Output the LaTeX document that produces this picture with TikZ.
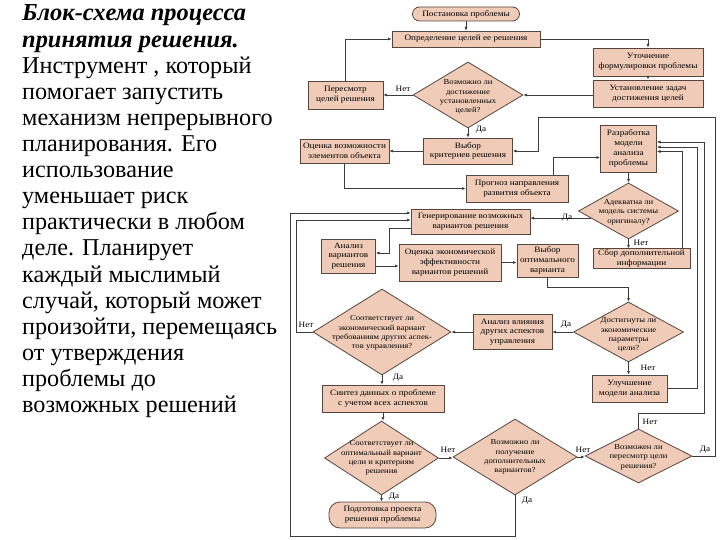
\documentclass[tikz,border=0pt]{standalone}
\usepackage{fontspec}
\setmainfont{Liberation Serif}
\newfontfamily\fcf[FakeStretch=1.12]{Liberation Serif}
\usetikzlibrary{shapes.geometric,arrows.meta,calc}
\definecolor{boxfill}{RGB}{240,204,184}
\definecolor{boxline}{RGB}{85,70,64}
\definecolor{conn}{RGB}{60,60,60}
\tikzset{
  fc/.style={font=\fcf\fontsize{8.2}{9.8}\selectfont, align=center, text=black},
  dl/.style={font=\fcf\fontsize{7.7}{9.4}\selectfont, align=center, text=black},
  box/.style={fc, draw=boxline, fill=boxfill, line width=0.8pt, inner sep=1pt},
  term/.style={box, rounded corners=7pt},
  dia/.style={draw=boxline, fill=boxfill, line width=0.8pt, shape=diamond, inner sep=0pt},
  arr/.style={draw=conn, line width=0.6pt, -{Latex[length=3.6pt,width=3pt]}},
  lbl/.style={font=\fcf\fontsize{8.2}{9}\selectfont, inner sep=0pt},
  lt/.style={font=\fontsize{24.2}{26}\selectfont, inner sep=0pt, anchor=base west},
  ltb/.style={lt, font=\fontsize{24.4}{26}\selectfont\bfseries\itshape}
}
\begin{document}
\begin{tikzpicture}[x=1pt,y=-1pt]
\useasboundingbox (0,0) rectangle (720,540);
\fill[white] (0,0) rectangle (720,540);

% left text
\node[ltb] (t1) at (22,21) {Блок-схема процесса};
\node[ltb] (t2) at (22,47.1) {принятия решения.};
\node[lt] (t3) at (22,73.2) {Инструмент , который};
\node[lt] (t4) at (22,99.3) {помогает запустить};
\node[lt] (t5) at (22,125.4) {механизм непрерывного};
\node[lt] (t6) at (22,151.5) {планирования. Его};
\node[lt] (t7) at (22,177.6) {использование};
\node[lt] (t8) at (22,203.7) {уменьшает риск};
\node[lt] (t9) at (22,229.8) {практически в любом};
\node[lt] (t10) at (22,255.9) {деле. Планирует};
\node[lt] (t11) at (22,282) {каждый мыслимый};
\node[lt] (t12) at (22,308.1) {случай, который может};
\node[lt] (t13) at (22,334.2) {произойти, перемещаясь};
\node[lt] (t14) at (22,360.3) {от утверждения};
\node[lt] (t15) at (22,386.4) {проблемы до};
\node[lt] (t16) at (22,412.5) {возможных решений};

% boxes
\node[term, minimum width=107pt, minimum height=14pt] (post) at (466,14) {Постановка проблемы};
\node[box, minimum width=148pt, minimum height=16pt] (opred) at (466,39) {Определение целей ее решения};
\node[box, minimum width=110pt, minimum height=28pt] (utoch) at (648,62) {Уточнение\\формулировки проблемы};
\node[box, minimum width=110pt, minimum height=27pt] (ustan) at (648,93.5) {Установление задач\\достижения целей};
\node[dia, minimum width=110pt, minimum height=66pt, label={[dl, yshift=-2pt]center:{Возможно ли\\достижение\\установленных\\целей?}}] (d1) at (468,95) {};
\node[box, minimum width=75pt, minimum height=28pt] (peresm) at (345.5,95) {Пересмотр\\целей решения};
\node[box, minimum width=89pt, minimum height=26pt] (vybk) at (468,151) {Выбор\\критериев решения};
\node[box, minimum width=89pt, minimum height=24pt] (ocv) at (344.5,151) {Оценка возможности\\элементов объекта};
\node[box, minimum width=102pt, minimum height=27pt] (progn) at (517,188.5) {Прогноз направления\\развития объекта};
\node[box, minimum width=56pt, minimum height=47pt] (razr) at (628.5,148.5) {Разработка\\модели\\анализа\\проблемы};
\node[dia, minimum width=100pt, minimum height=56pt, label={[dl, yshift=-1pt]center:{Адекватна ли\\модель системы\\оригиналу?}}] (d2) at (628.5,211) {};
\node[box, minimum width=97pt, minimum height=19pt] (sbor) at (641.5,258.5) {Сбор дополнительной\\информации};
\node[box, minimum width=119pt, minimum height=25pt] (gener) at (470.5,222) {Генерирование возможных\\вариантов решения};
\node[box, minimum width=54pt, minimum height=34pt] (anv) at (348.5,256) {Анализ\\вариантов\\решения};
\node[box, minimum width=102pt, minimum height=37pt] (oce) at (450,262.5) {Оценка экономической\\эффективности\\вариантов решений};
\node[box, minimum width=61pt, minimum height=33pt] (vybo) at (547.5,260.5) {Выбор\\оптимального\\варианта};
\node[dia, minimum width=110pt, minimum height=60pt, label={[dl, yshift=-3pt]center:{Достигнуты ли\\экономические\\параметры\\цели?}}] (d3) at (628.5,332) {};
\node[box, minimum width=75pt, minimum height=27pt] (ulu) at (629.5,388.5) {Улучшение\\модели анализа};
\node[box, minimum width=79pt, minimum height=35pt] (anvl) at (512.5,332) {Анализ влияния\\других аспектов\\управления};
\node[dia, minimum width=138pt, minimum height=86pt, label={[dl, yshift=-1pt]center:{Соответствует ли\\экономический вариант\\требованиям других аспек-\\тов управления?}}] (d4) at (382,332) {};
\node[box, minimum width=122pt, minimum height=27pt] (sint) at (383,398.5) {Синтез данных о проблеме\\с учетом всех аспектов};
\node[dia, minimum width=114pt, minimum height=74pt, label={[dl]center:{Соответствует ли\\оптимальный вариант\\цели и критериям\\решения}}] (d5) at (381.5,458) {};
\node[dia, minimum width=124pt, minimum height=76pt, label={[dl]center:{Возможно ли\\получение\\дополнительных\\вариантов?}}] (d6) at (515,457) {};
\node[dia, minimum width=107pt, minimum height=54pt, label={[dl, yshift=-1pt]center:{Возможен ли\\пересмотр цели\\решения?}}] (d7) at (638.5,456) {};
\node[term, rounded corners=11pt, minimum width=107pt, minimum height=26pt] (podg) at (382.5,515) {Подготовка проекта\\решения проблемы};

% connectors
\draw[arr] (post) -- (opred);
\draw[arr] (opred.east) -| (utoch.north);
\draw[arr] (utoch) -- (ustan);
\draw[arr] (ustan.west |- d1.east) -- (d1.east);
\draw[arr] (d1.west) -- (peresm.east |- d1.west);
\draw[arr] (peresm.north) |- (opred.west);
\draw[arr] (d1.south) -- (vybk.north);
\draw[arr] (vybk.west) -- (ocv.east |- vybk.west);
\draw[arr] (ocv.south) |- (progn.west);
\draw[arr] ($(progn.north east)+(-15,0)$) |- ($(razr.west)+(0,9)$);
\draw[arr] (razr) -- (d2);
\draw[arr] (d2.south) -- (d2.south |- sbor.north);
\coordinate (d2a) at ($(d2.west)!0.25!(d2.south)$);
\draw[arr] (d2a) -- (d2a -| gener.east);
\draw[arr] ($(sbor.north east)+(-8,0)$) |- ($(razr.east)+(0,3)$);
\draw[arr] (ulu.east) -- ++(30,0) |- ($(razr.east)+(0,-1.5)$);
\draw[arr] (d7.north) -- ++(0,-15) -- ++(65.5,0) |- ($(razr.east)+(0,-6.5)$);
\draw[arr] (vybo.south) -- ++(0,10) -| (d3.north);
\draw[arr] (d3.west) -- (anvl.east);
\draw[arr] (d3.south) -- (d3.south |- ulu.north);
\draw[arr] (anvl.west) -- (d4.east);
\draw[arr] (d4.south) -- (d4.south |- sint.north);
\draw[arr] (d4.west) -- ++(-16,0) |- ($(gener.west)+(0,-2)$);
\draw[arr] ($(gener.west)+(0,6)$) -- ++(-21,0) |- ($(anv.east)+(0,-3)$);
\draw[arr] ($(anv.east)+(0,10)$) -- ($(oce.west |- anv.east)+(0,10)$);
\draw[arr] (oce.east) -- (vybo.west |- oce.east);
\draw[arr] (sint.south) -- (sint.south |- d5.north);
\draw[arr] (d5.south) -- (d5.south |- podg.north);
\draw[arr] (d5.east) -- (d6.west |- d5.east);
\draw[arr] (d6.south) -- ++(0,41) -- ++(-225,0) |- ($(gener.west)+(0,-9)$);
\draw[arr] (d6.east) -- (d7.west |- d6.east);
\draw[arr] (d7.east) -- ++(23,0) |- ($(vybk.east)+(25,-34)$) |- (vybk.east);

% labels
\node[lbl] (l1) at (403,89) {Нет};
\node[lbl] (l2) at (481,130) {Да};
\node[lbl] (l3) at (567,218) {Да};
\node[lbl] (l4) at (641,243) {Нет};
\node[lbl] (l5) at (566,325) {Да};
\node[lbl] (l6) at (648,368) {Нет};
\node[lbl] (l7) at (306,325) {Нет};
\node[lbl] (l8) at (398,378) {Да};
\node[lbl] (l9) at (448,450) {Нет};
\node[lbl] (l10) at (394,497) {Да};
\node[lbl] (l11) at (527,501) {Да};
\node[lbl] (l12) at (583,450) {Нет};
\node[lbl] (l13) at (650,422) {Нет};
\node[lbl] (l14) at (705,450) {Да};
\end{tikzpicture}
\end{document}
